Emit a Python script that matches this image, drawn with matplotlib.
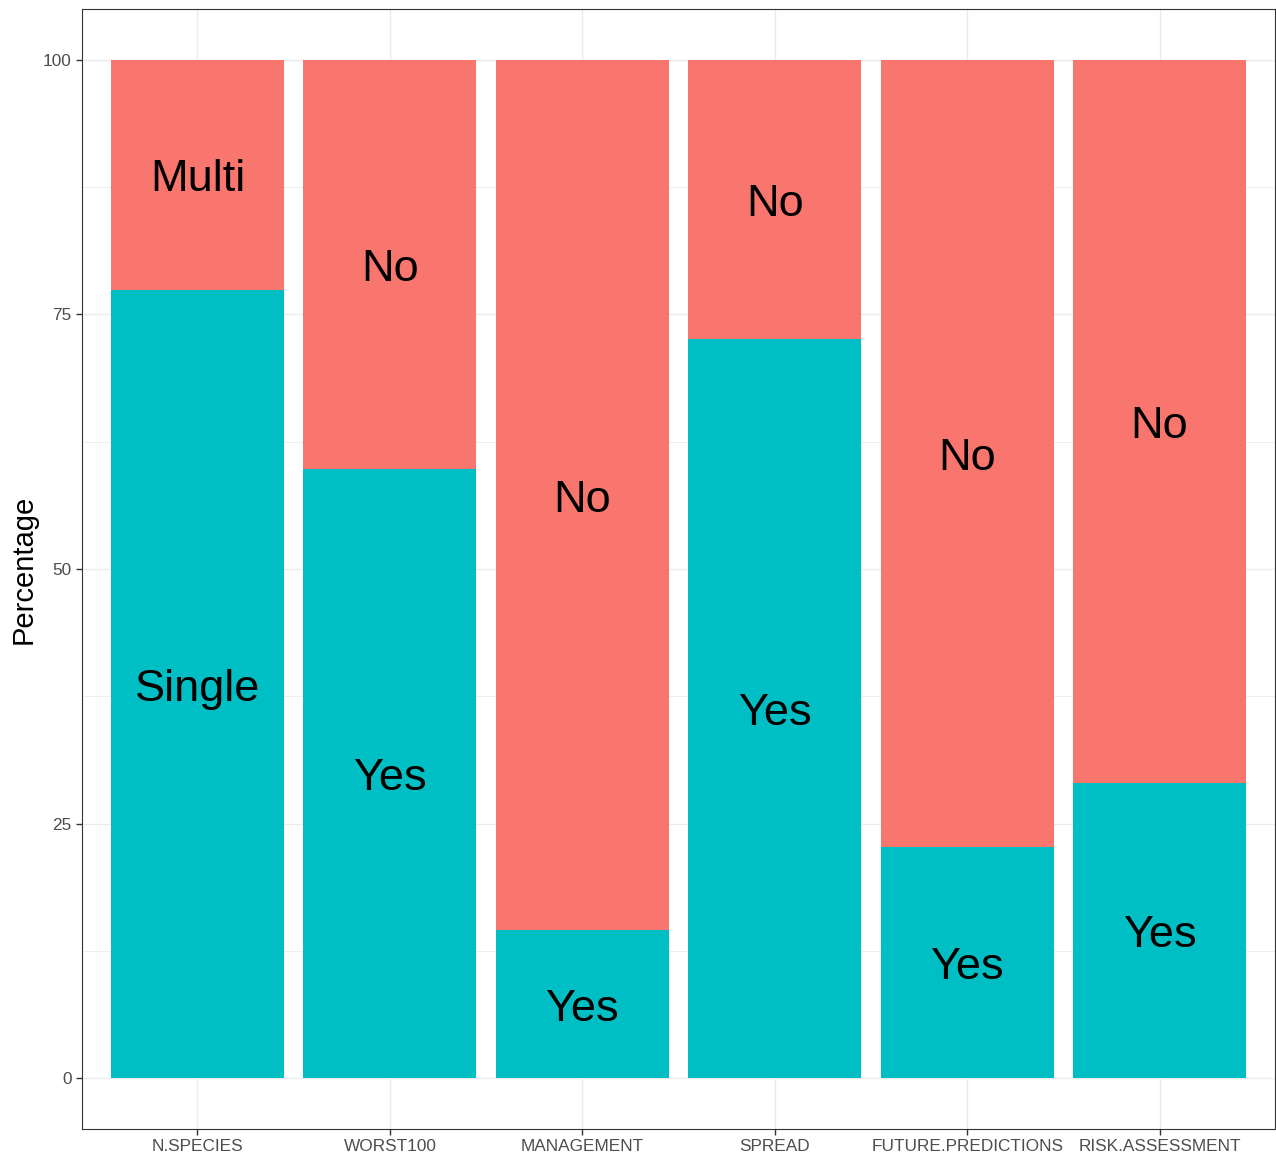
import matplotlib.pyplot as plt
import matplotlib.transforms as mtransforms
import numpy as np

# categories and percentages (bottom segment = Yes / Single)
categories = ['N.SPECIES', 'WORST100', 'MANAGEMENT', 'SPREAD', 'FUTURE.PREDICTIONS', 'RISK.ASSESSMENT']
bottom_pct = [77.4, 59.8, 14.5, 72.6, 22.7, 29.0]
top_pct = [100 - v for v in bottom_pct]
bottom_labels = ['Single', 'Yes', 'Yes', 'Yes', 'Yes', 'Yes']
top_labels = ['Multi', 'No', 'No', 'No', 'No', 'No']
yticks = [0, 25, 50, 75, 100]

teal = '#00BFC4'
salmon = '#F8766D'

plt.rcParams['font.family'] = ['Liberation Sans', 'DejaVu Sans']

fig = plt.figure(figsize=(12.76, 11.57), dpi=100)
ax = fig.add_axes([82 / 1276, 1 - 1129 / 1157, (1275 - 82) / 1276, (1129 - 9) / 1157])

x = np.arange(1, len(categories) + 1)

# grid lines like ggplot theme_bw
for yv in np.arange(0, 101, 12.5):
    ax.axhline(yv, color='#EBEBEB', lw=1.0 if yv % 25 == 0 else 0.6, zorder=0)
for xv in x:
    ax.axvline(xv, color='#EBEBEB', lw=1.0, zorder=0)

ax.bar(x, bottom_pct, width=0.9, color=teal, zorder=2)
ax.bar(x, top_pct, width=0.9, bottom=bottom_pct, color=salmon, zorder=2)

# small downward nudge so the text sits like ggplot's geom_text
shift = ax.transData + mtransforms.ScaledTranslation(0, -0.05, fig.dpi_scale_trans)
for xi, b, t, bl, tl in zip(x, bottom_pct, top_pct, bottom_labels, top_labels):
    ax.text(xi, b / 2, bl, ha='center', va='center', fontsize=32.5, color='black',
            zorder=3, transform=shift)
    ax.text(xi, b + t / 2, tl, ha='center', va='center', fontsize=32.5, color='black',
            zorder=3, transform=shift)

ax.set_xlim(0.4, 6.6)
ax.set_ylim(-5, 105)
ax.set_xticks(x)
ax.set_xticklabels(categories)
ax.set_yticks(yticks)
ax.tick_params(axis='both', colors='#333333', labelcolor='#4D4D4D', labelsize=12.4,
               length=4, width=1)
ax.set_ylabel('Percentage', fontsize=21, color='black', labelpad=4)

for sp in ax.spines.values():
    sp.set_color('#333333')
    sp.set_linewidth(0.8)

fig.savefig('out.png', dpi=100, facecolor='white')
